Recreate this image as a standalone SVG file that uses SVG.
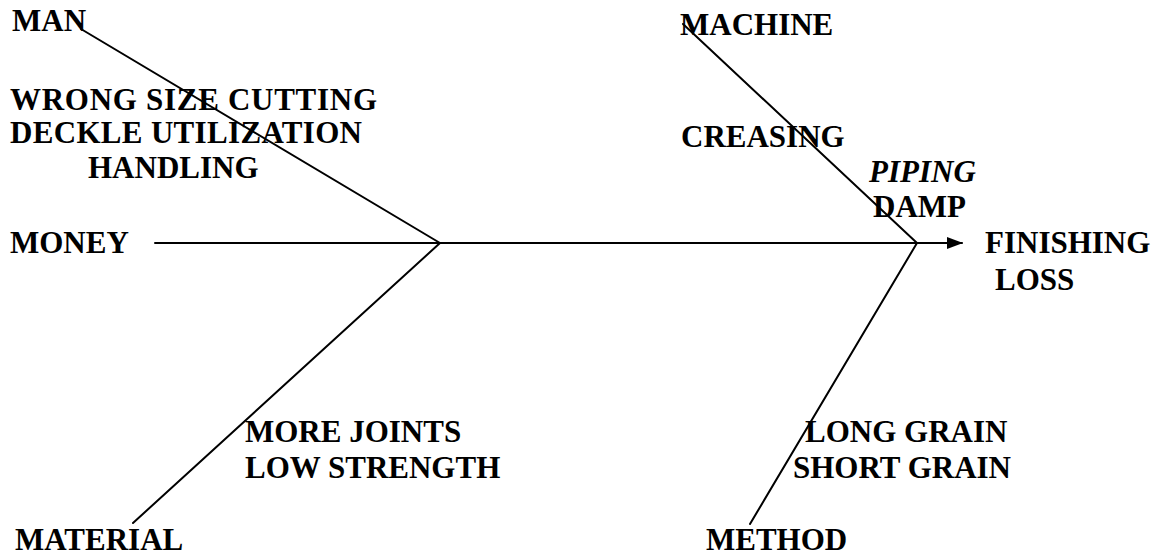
<svg xmlns="http://www.w3.org/2000/svg" width="1153" height="555" viewBox="0 0 1153 555">
<style>
.t{font-family:"Liberation Serif","Times New Roman",serif;font-weight:bold;font-size:31px;fill:#000}
.i{font-style:italic}
.ln{stroke:#000;stroke-width:2;fill:none;stroke-linecap:round}
</style>
<defs>
<marker id="ah" markerWidth="16" markerHeight="12" refX="15" refY="6" orient="auto" markerUnits="userSpaceOnUse">
<path d="M0,0 L16,6 L0,12 Z" fill="#000"/>
</marker>
</defs>
<rect width="1153" height="555" fill="#fff"/>
<g id="connectors">
<line class="ln" x1="155" y1="243" x2="962" y2="243" marker-end="url(#ah)"/>
<line class="ln" x1="81" y1="29" x2="440" y2="243"/>
<line class="ln" x1="440" y1="243" x2="133" y2="523"/>
<line class="ln" x1="683" y1="24" x2="917" y2="243"/>
<line class="ln" x1="917" y1="243" x2="750" y2="524"/>
</g>
<g id="man"><text class="t" x="12" y="31" font-size="27">MAN</text></g>
<g id="man-causes">
<text class="t" x="10" y="110" textLength="367" lengthAdjust="spacing">WRONG SIZE CUTTING</text>
<text class="t" x="10" y="143" textLength="352" lengthAdjust="spacing">DECKLE UTILIZATION</text>
<text class="t" x="88" y="178">HANDLING</text>
</g>
<g id="money"><text class="t" x="10" y="253">MONEY</text></g>
<g id="machine"><text class="t" x="680" y="35">MACHINE</text></g>
<g id="machine-causes">
<text class="t" x="681" y="147">CREASING</text>
<text class="t i" x="869" y="182">PIPING</text>
<text class="t" x="873" y="217">DAMP</text>
</g>
<g id="effect">
<text class="t" x="985" y="253">FINISHING</text>
<text class="t" x="995" y="290">LOSS</text>
</g>
<g id="material-causes">
<text class="t" x="245" y="442">MORE JOINTS</text>
<text class="t" x="245" y="478">LOW STRENGTH</text>
</g>
<g id="method-causes">
<text class="t" x="805" y="442">LONG GRAIN</text>
<text class="t" x="793" y="478">SHORT GRAIN</text>
</g>
<g id="material"><text class="t" x="15" y="550">MATERIAL</text></g>
<g id="method"><text class="t" x="706" y="550">METHOD</text></g>
</svg>
